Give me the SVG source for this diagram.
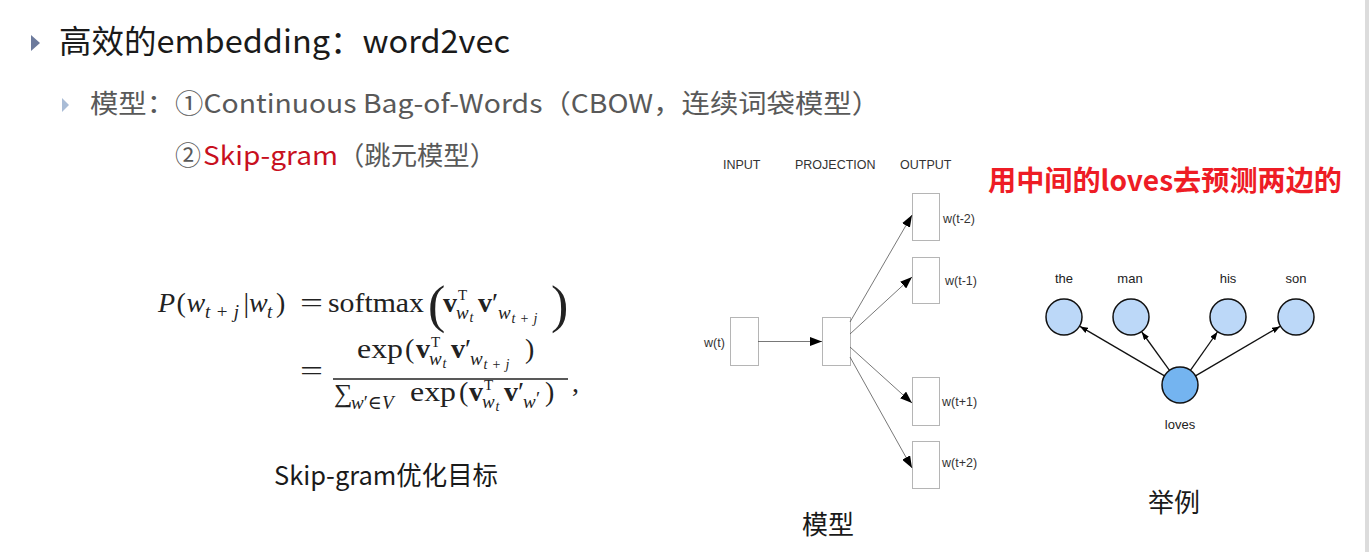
<svg xmlns="http://www.w3.org/2000/svg" width="1369" height="552" viewBox="0 0 1369 552">
  <style>
    .cjk { font-family: "Noto Sans CJK SC", "Noto Sans", sans-serif; }
    .title { font-size: 32px; fill: #1a1a1a; }
    .sub { font-size: 26px; fill: #595959; }
    .cap { font-size: 26px; fill: #1a1a1a; }
    .red { fill: #c8101e; }
    .math { font-family: "Liberation Serif", "DejaVu Serif", serif; fill: #222; }
    .m { font-size: 28px; }
    .ms { font-size: 19px; }
    .mss { font-size: 14px; }
    .sup { font-size: 15px; }
    .it { font-style: italic; }
    .bf { font-weight: bold; }
    .lbl { font-family: "Liberation Sans", Arial, sans-serif; font-size: 12.5px; fill: #333; }
    .lbl2 { font-family: "Liberation Sans", Arial, sans-serif; font-size: 13px; fill: #222; }
    .box { fill: #fff; stroke: #b5b5b5; stroke-width: 1; }
    .edge { stroke: #555; stroke-width: 0.8; fill: none; }
    .edge2 { stroke: #111; stroke-width: 1.3; fill: none; }
    .word { fill: #bcd8f8; stroke: #111; stroke-width: 1.5; }
    .center { fill: #74b4f0; stroke: #111; stroke-width: 1.5; }
  </style>
  <defs>
    <marker id="arrowBig" markerUnits="userSpaceOnUse" markerWidth="12" markerHeight="9" refX="12" refY="4.5" orient="auto">
      <path d="M0,0 L12,4.5 L0,9 z" fill="#000"/>
    </marker>
    <marker id="arrowSmall" markerUnits="userSpaceOnUse" markerWidth="8" markerHeight="6" refX="8" refY="3" orient="auto">
      <path d="M0,0 L8,3 L0,6 z" fill="#000"/>
    </marker>
  </defs>

  <rect width="1369" height="552" fill="#fff"/>
  <rect x="1365" y="0" width="4" height="552" fill="#dcdcdc"/>

  <!-- slide bullets -->
  <g id="heading">
    <polygon points="31,35 40,43 31,51" fill="#6c7a9c"/>
    <text class="cjk title" x="59" y="53" textLength="451" lengthAdjust="spacingAndGlyphs">高效的embedding：word2vec</text>
  </g>
  <g id="models">
    <polygon points="62,98 69,105 62,112" fill="#a9bcd6"/>
    <text class="cjk sub" x="90" y="113" textLength="790" lengthAdjust="spacingAndGlyphs">模型：①Continuous Bag-of-Words（CBOW，连续词袋模型）</text>
    <text class="cjk sub" x="175" y="165">②</text>
    <text class="cjk sub red" x="203" y="165" textLength="135" lengthAdjust="spacingAndGlyphs">Skip-gram</text>
    <text class="cjk sub" x="338" y="165" textLength="158" lengthAdjust="spacingAndGlyphs">（跳元模型）</text>
  </g>

  <!-- objective formula, first row -->
  <g id="formula" class="math">
    <text class="m it" x="158" y="312">P</text>
    <text class="m" x="176.5" y="312">(</text>
    <text class="m it" x="186.5" y="312">w</text>
    <text class="ms" x="205" y="318" textLength="34" lengthAdjust="spacing"><tspan class="it">t</tspan>+<tspan class="it">j</tspan></text>
    <text class="m" x="243.5" y="312">|</text>
    <text class="m it" x="249" y="312">w</text>
    <text class="ms it" x="267" y="318">t</text>
    <text class="m" x="276" y="312">)</text>
    <text class="m" x="300" y="312" textLength="23" lengthAdjust="spacingAndGlyphs">=</text>
    <text class="m" x="328" y="312" textLength="96" lengthAdjust="spacingAndGlyphs">softmax</text>
    <text x="428" y="322" font-size="52">(</text>
    <text class="m bf" x="443" y="312">v</text>
    <text class="sup" x="458" y="300">T</text>
    <text class="ms it" x="456" y="319">w</text>
    <text class="mss it" x="469.5" y="322">t</text>
    <text class="m bf" x="478" y="312">v</text>
    <text class="m" x="492" y="312">′</text>
    <text class="ms it" x="498" y="319">w</text>
    <text class="mss" x="511.5" y="323" textLength="26" lengthAdjust="spacing"><tspan class="it">t</tspan>+<tspan class="it">j</tspan></text>
    <text x="551" y="322" font-size="52">)</text>

    <!-- second row: fraction -->
    <text class="m" x="300" y="380" textLength="23" lengthAdjust="spacingAndGlyphs">=</text>
    <text class="m" x="357" y="358" textLength="46" lengthAdjust="spacingAndGlyphs">exp</text>
    <text class="m" x="405" y="358">(</text>
    <text class="m bf" x="416" y="358">v</text>
    <text class="sup" x="431" y="347">T</text>
    <text class="ms it" x="429" y="365">w</text>
    <text class="mss it" x="442.5" y="368">t</text>
    <text class="m bf" x="451" y="358">v</text>
    <text class="m" x="465" y="358">′</text>
    <text class="ms it" x="470" y="365">w</text>
    <text class="mss" x="483.5" y="369" textLength="26" lengthAdjust="spacing"><tspan class="it">t</tspan>+<tspan class="it">j</tspan></text>
    <text class="m" x="525" y="358">)</text>
    <line x1="333" y1="379" x2="568" y2="379" stroke="#222" stroke-width="1.3"/>
    <text x="334" y="402" font-size="26">∑</text>
    <text class="ms" x="351" y="409"><tspan class="it">w</tspan>′∈<tspan class="it">V</tspan></text>
    <text class="m" x="410" y="401" textLength="46" lengthAdjust="spacingAndGlyphs">exp</text>
    <text class="m" x="459" y="401">(</text>
    <text class="m bf" x="469" y="401">v</text>
    <text class="sup" x="484" y="390">T</text>
    <text class="ms it" x="482" y="408">w</text>
    <text class="mss it" x="495.5" y="411">t</text>
    <text class="m bf" x="504" y="401">v</text>
    <text class="m" x="518" y="401">′</text>
    <text class="ms it" x="523" y="408">w</text>
    <text class="ms" x="536" y="405">′</text>
    <text class="m" x="545" y="401">)</text>
    <text class="m" x="572" y="392">,</text>
  </g>
  <text id="formula-caption" class="cjk cap" x="274" y="485" textLength="224" lengthAdjust="spacingAndGlyphs">Skip-gram优化目标</text>

  <!-- skip-gram network -->
  <g id="layer-headers" class="lbl">
    <text x="723" y="169">INPUT</text>
    <text x="795" y="169">PROJECTION</text>
    <text x="900" y="169">OUTPUT</text>
  </g>
  <g id="input">
    <rect class="box" x="730.5" y="317.5" width="28" height="48"/>
    <text class="lbl" x="704" y="347">w(t)</text>
  </g>
  <g id="projection">
    <rect class="box" x="822.5" y="317.5" width="28" height="48"/>
  </g>
  <g id="out-t-2">
    <rect class="box" x="912.5" y="193.5" width="27" height="47"/>
    <text class="lbl" x="943" y="223">w(t-2)</text>
  </g>
  <g id="out-t-1">
    <rect class="box" x="912.5" y="257.5" width="27" height="46"/>
    <text class="lbl" x="945" y="285">w(t-1)</text>
  </g>
  <g id="out-t1">
    <rect class="box" x="912.5" y="377.5" width="27" height="48"/>
    <text class="lbl" x="942" y="406">w(t+1)</text>
  </g>
  <g id="out-t2">
    <rect class="box" x="912.5" y="441.5" width="27" height="47"/>
    <text class="lbl" x="942" y="467">w(t+2)</text>
  </g>
  <g id="network-edges">
    <line class="edge" x1="758" y1="341.5" x2="822" y2="341.5" marker-end="url(#arrowBig)"/>
    <line class="edge" x1="850" y1="322" x2="912" y2="215" marker-end="url(#arrowBig)"/>
    <line class="edge" x1="850" y1="334" x2="912" y2="277" marker-end="url(#arrowBig)"/>
    <line class="edge" x1="850" y1="347" x2="912" y2="403" marker-end="url(#arrowBig)"/>
    <line class="edge" x1="850" y1="357" x2="912" y2="468" marker-end="url(#arrowBig)"/>
  </g>
  <text id="network-caption" class="cjk cap" x="802" y="534" textLength="52" lengthAdjust="spacingAndGlyphs">模型</text>

  <!-- example sentence -->
  <text id="note" class="cjk" x="988" y="191" font-size="28" font-weight="bold" fill="#ee1c25" textLength="354" lengthAdjust="spacingAndGlyphs">用中间的loves去预测两边的</text>
  <g id="w-the">
    <circle class="word" cx="1064" cy="317" r="18"/>
    <text class="lbl2" x="1064" y="283" text-anchor="middle">the</text>
  </g>
  <g id="w-man">
    <circle class="word" cx="1131" cy="317" r="18"/>
    <text class="lbl2" x="1130" y="283" text-anchor="middle">man</text>
  </g>
  <g id="w-his">
    <circle class="word" cx="1228" cy="317" r="18"/>
    <text class="lbl2" x="1228" y="283" text-anchor="middle">his</text>
  </g>
  <g id="w-son">
    <circle class="word" cx="1296" cy="317" r="18"/>
    <text class="lbl2" x="1296" y="283" text-anchor="middle">son</text>
  </g>
  <g id="w-loves">
    <circle class="center" cx="1180" cy="385" r="18"/>
    <text class="lbl2" x="1180" y="429" text-anchor="middle">loves</text>
  </g>
  <g id="example-edges">
    <line class="edge2" x1="1164.5" y1="375.9" x2="1080" y2="326.4" marker-end="url(#arrowSmall)"/>
    <line class="edge2" x1="1169.5" y1="370.4" x2="1141.8" y2="332" marker-end="url(#arrowSmall)"/>
    <line class="edge2" x1="1190.4" y1="370.3" x2="1217.4" y2="332" marker-end="url(#arrowSmall)"/>
    <line class="edge2" x1="1195.5" y1="375.9" x2="1280" y2="326.4" marker-end="url(#arrowSmall)"/>
  </g>
  <text id="example-caption" class="cjk cap" x="1148" y="512" textLength="52" lengthAdjust="spacingAndGlyphs">举例</text>
</svg>
